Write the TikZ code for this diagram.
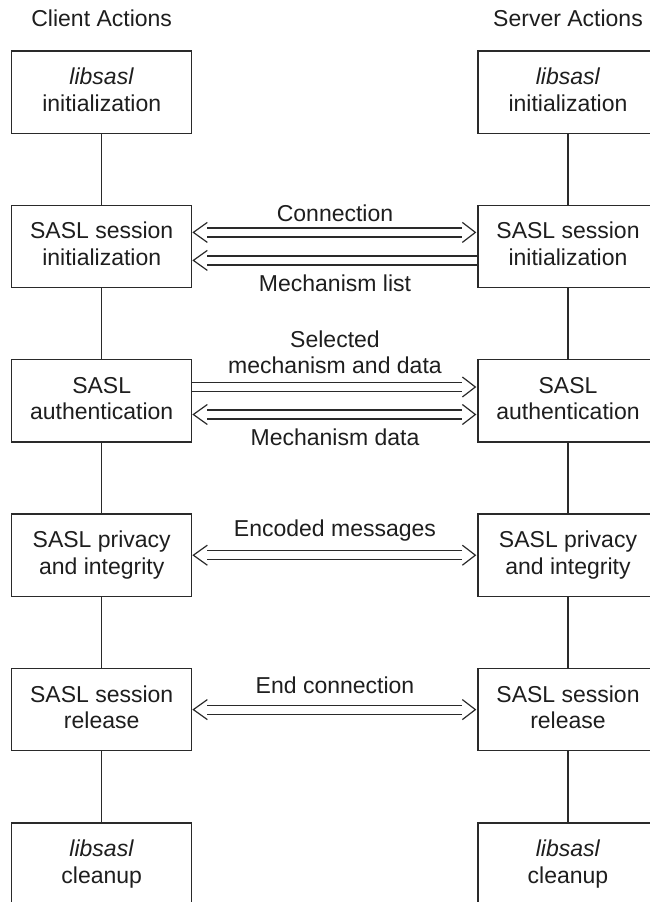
\documentclass[tikz,border=0pt]{standalone}
\usepackage{fontspec}
\setmainfont{Liberation Sans}
\definecolor{ink}{HTML}{2A2A2A}
\definecolor{txt}{HTML}{1E1E1E}
\newcommand\ph{\vphantom{Agy}}
\newcommand\dbl[5]{%
  \draw[conn] ([xshift=#4,yshift={#3+4.5pt}]#1.east) -- ([xshift=#5,yshift={#3+4.5pt}]#2.west);
  \draw[conn] ([xshift=#4,yshift={#3-4.5pt}]#1.east) -- ([xshift=#5,yshift={#3-4.5pt}]#2.west);}
\newcommand\ltip[2]{%
  \draw[conn,line join=miter] ([xshift=15pt,yshift={#2+10pt}]#1.east) -- ([xshift=1pt,yshift={#2}]#1.east) -- ([xshift=15pt,yshift={#2-10pt}]#1.east);}
\newcommand\rtip[2]{%
  \draw[conn,line join=miter] ([xshift=-15pt,yshift={#2+10pt}]#1.west) -- ([xshift=-2pt,yshift={#2}]#1.west) -- ([xshift=-15pt,yshift={#2-10pt}]#1.west);}
\begin{document}
\begin{tikzpicture}[x=1pt,y=-1pt,
  every node/.style={font=\fontsize{23}{26.7}\selectfont, text=txt},
  actbox/.style={draw=ink, line width=1.3pt, minimum width=180pt, minimum height=82.3pt, inner sep=0pt, align=center},
  lbl/.style={inner sep=0pt, align=center},
  conn/.style={draw=ink, line width=1.2pt},
  vline/.style={draw=ink, line width=1.3pt}]
\useasboundingbox (0,0) rectangle (650,902);
\clip (0,0) rectangle (650,902);
\fill[white] (0,0) rectangle (650,902);

\node[lbl, anchor=base] (ct) at (101.7,27) {Client Actions};
\node[lbl, anchor=base] (st) at (568,27) {Server Actions};

\node[actbox] (L1) at (101.7,92)    {\ph\textit{libsasl}\\\ph initialization};
\node[actbox] (L2) at (101.7,246.4) {\ph SASL session\\\ph initialization};
\node[actbox] (L3) at (101.7,400.8) {\ph SASL\\\ph authentication};
\node[actbox] (L4) at (101.7,555.2) {\ph SASL privacy\\\ph and integrity};
\node[actbox] (L5) at (101.7,709.6) {\ph SASL session\\\ph release};
\node[actbox] (L6) at (101.7,864)   {\ph\textit{libsasl}\\\ph cleanup};

\node[actbox] (R1) at (568,92)    {\ph\textit{libsasl}\\\ph initialization};
\node[actbox] (R2) at (568,246.4) {\ph SASL session\\\ph initialization};
\node[actbox] (R3) at (568,400.8) {\ph SASL\\\ph authentication};
\node[actbox] (R4) at (568,555.2) {\ph SASL privacy\\\ph and integrity};
\node[actbox] (R5) at (568,709.6) {\ph SASL session\\\ph release};
\node[actbox] (R6) at (568,864)   {\ph\textit{libsasl}\\\ph cleanup};

\foreach \a/\b in {1/2,2/3,3/4,4/5,5/6}{
  \draw[vline] (L\a.south) -- (L\b.north);
  \draw[vline] (R\a.south) -- (R\b.north);
}

% Connection (both tips)
\dbl{L2}{R2}{14pt}{15pt}{-15pt}
\ltip{L2}{14pt}
\rtip{R2}{14pt}
% Mechanism list (left tip only)
\dbl{L2}{R2}{-14pt}{15pt}{0pt}
\ltip{L2}{-14pt}
% Selected mechanism and data (right tip only)
\dbl{L3}{R3}{13.8pt}{0pt}{-15pt}
\rtip{R3}{13.8pt}
% Mechanism data (both)
\dbl{L3}{R3}{-13.7pt}{15pt}{-15pt}
\ltip{L3}{-13.7pt}
\rtip{R3}{-13.7pt}
% Encoded messages (both)
\dbl{L4}{R4}{0pt}{15pt}{-15pt}
\ltip{L4}{0pt}
\rtip{R4}{0pt}
% End connection (both)
\dbl{L5}{R5}{0pt}{15pt}{-15pt}
\ltip{L5}{0pt}
\rtip{R5}{0pt}

\node[lbl, anchor=base] (m1) at (335,221) {Connection};
\node[lbl, anchor=base] (m2) at (335,291) {Mechanism list};
\node[lbl] (m3) at (335,354.6) {\ph Selected\\\ph mechanism and data};
\node[lbl, anchor=base] (m4) at (335,445) {Mechanism data};
\node[lbl, anchor=base] (m5) at (335,536) {Encoded messages};
\node[lbl, anchor=base] (m6) at (335,693) {End connection};
\end{tikzpicture}
\end{document}
